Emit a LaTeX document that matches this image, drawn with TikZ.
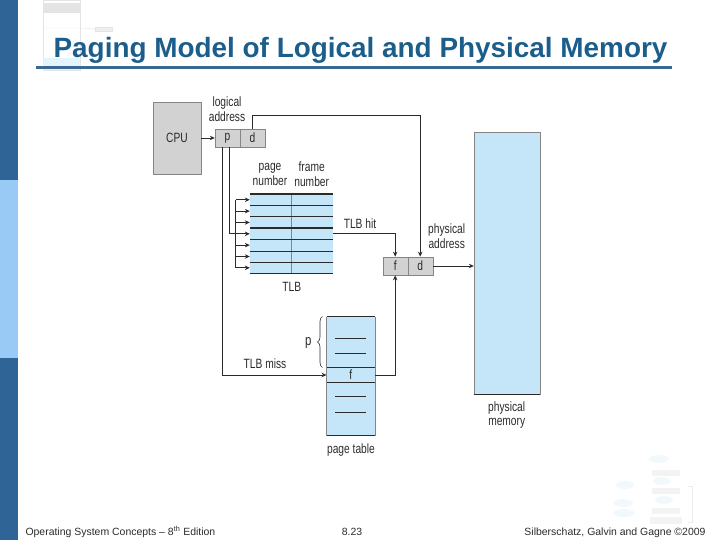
\documentclass[tikz,border=0pt]{standalone}
\usepackage{fontspec}
\setmainfont{Liberation Sans}
\newfontfamily\narrowsf[FakeStretch=0.76]{Liberation Sans}
\usetikzlibrary{arrows.meta,calc,decorations.pathreplacing}
\definecolor{barblue}{HTML}{2F6496}
\definecolor{barlight}{HTML}{99C9F5}
\definecolor{titleblue}{HTML}{1B5E8C}
\definecolor{ruleblue}{HTML}{3A6A94}
\definecolor{memblue}{HTML}{C4E6F8}
\definecolor{boxgray}{HTML}{D2D2D2}
\definecolor{edgegray}{HTML}{858585}
\definecolor{ink}{HTML}{2B2B2B}
\definecolor{faint}{HTML}{E4E4E4}
\tikzset{
 lbl/.style={font=\narrowsf\fontsize{13.5}{15}\selectfont,text=ink,align=center,inner sep=0pt},
 cell/.style={draw=edgegray,fill=boxgray,minimum width=25bp,minimum height=18bp,inner sep=0pt,font=\narrowsf\fontsize{13.5}{14}\selectfont,text=ink},
 arr/.style={ink,line width=.8pt,-{Stealth[length=5pt,width=4.5pt]}},
 wire/.style={ink,line width=.8pt},
}
\begin{document}
\begin{tikzpicture}[x=1bp,y=-1bp]
 \useasboundingbox(0,0)rectangle(720,540);
 \fill[barblue](0,0)rectangle(18,540);
 \fill[barlight](0,180)rectangle(18,358);
 % faded slide thumbnails
 \draw[faint](43,0)rectangle(80,70);\fill[faint](43,3)rectangle(80,13);\fill[memblue!45](43,58)rectangle(80,70);
 \draw[faint](43,28)--(80,28)--(95,29);\draw[faint,fill=faint!60](95,27)rectangle(112,31);
 \fill[memblue!22](659,459)ellipse(10 and 4);\fill[faint!45](652,470)rectangle(680,476);
 \fill[memblue!22](662,481)ellipse(9 and 4);\fill[faint!45](652,488)rectangle(680,494);
 \fill[memblue!22](664,500)ellipse(9 and 4);\fill[faint!45](652,508)rectangle(680,514);
 \fill[faint!45](650,517)rectangle(682,524);\fill[memblue!22](625,485)ellipse(9 and 4);
 \fill[memblue!22](623,503)ellipse(10 and 4);\fill[memblue!22](624,513)ellipse(11 and 4);
 \draw[faint!70](688,486)--(692,486)--(692,522)--(688,522);
 % title
 \node[font=\fontsize{28}{30}\selectfont\bfseries,text=titleblue,anchor=base](title)at(360.5,58){Paging Model of Logical and Physical Memory};
 \draw[ruleblue,line width=3bp](36,67.5)--(672,67.5);
 % cpu and addresses
 \node[cell,minimum width=48bp,minimum height=72bp](cpu)at(177,138){CPU};
 \node[cell](lp)at(227.5,138){p};
 \node[cell](ld)at(252.5,138){d};
 \node[lbl](lalbl)at(227,109.5){logical\\address};
 \node[cell,minimum height=18.3bp](pf)at(395.2,266){f};
 \node[cell,minimum height=18.3bp](pd)at(420.2,266){d};
 \node[lbl](palbl)at(446.7,236){physical\\address};
 % TLB
 \node[fill=memblue,minimum width=82.7bp,minimum height=79bp,inner sep=0pt](tlb)at(291.35,233.8){};
 \draw[edgegray,line width=.4pt](tlb.north)--(tlb.south);
 \foreach \i/\w in {0/1.3,1/.5,2/1.3,3/1.3,4/1.3,5/.5,6/1.3,7/.4}
  \draw[ink,line width=\w pt]($(tlb.north west)!\i/7!(tlb.south west)$)--($(tlb.north east)!\i/7!(tlb.south east)$);
 \node[lbl](pnlbl)at(270,174.5){page\\number};
 \node[lbl](fnlbl)at(311.7,174.5){frame\\number};
 \node[lbl](tlblbl)at(291.7,286.7){TLB};
 \draw[wire]($(tlb.north west)!{.5/7}!(tlb.south west)+(-14,0)$)--($(tlb.north west)!{6.5/7}!(tlb.south west)+(-14,0)$);
 \foreach \i in {1,...,7}
  \draw[arr]($(tlb.north west)!{(\i-.5)/7}!(tlb.south west)+(-14,0)$)--($(tlb.north west)!{(\i-.5)/7}!(tlb.south west)$);
 % page table
 \node[fill=memblue,minimum width=48.3bp,minimum height=119bp,inner sep=0pt](pt)at(350.85,376.2){};
 \node[minimum width=48.3bp,minimum height=14.6bp,inner sep=0pt,font=\narrowsf\fontsize{13.5}{14}\selectfont,text=ink](ptf)at(350.85,375){f};
 \draw[ink,line width=1pt](pt.north west)--(pt.north east) (pt.south west)--(pt.south east)
  (ptf.north west)--(ptf.north east) (ptf.south west)--(ptf.south east);
 \draw[edgegray,line width=.3pt](pt.north west)--(pt.south west) (pt.north east)--(pt.south east);
 \foreach \y in {338.3,353.3,396.7,412.3}\draw[ink,line width=.7pt](335,\y)--(366,\y);
 \draw[ink,line width=.6pt,decorate,decoration={brace,amplitude=5bp}]([xshift=-4bp]ptf.north west)--([xshift=-4bp]pt.north west);
 \node[lbl,font=\narrowsf\fontsize{15}{15}\selectfont](plbl)at(308.3,343.3){p};
 \node[lbl](ptlbl)at(351,450){page table};
 % memory
 \node[draw=edgegray,fill=memblue,minimum width=66bp,minimum height=262bp,inner sep=0pt](mem)at(507,263.3){};
 \draw[ink,line width=1pt](mem.south west)--(mem.south east);
 \node[lbl](memlbl)at(506.7,415){physical\\memory};
 % connectors
 \draw[arr](cpu.east)--(lp.west);
 \draw[arr](ld.north)--++(0,-13)-|(pd.north);
 \draw[wire]([xshift=1.5bp]lp.south)|-($(tlb.west)+(-14,0)$);
 \draw[arr](tlb.east)-|(pf.north);
 \node[lbl](hitlbl)at(360,223.3){TLB hit};
 \draw[arr]([xshift=-4.8bp]lp.south)|-(ptf.west);
 \node[lbl](misslbl)at(265,363.3){TLB miss};
 \draw[arr](ptf.east)-|(pf.south);
 \draw[arr](pd.east)--(pd.east-|mem.west);
 % footer
 \node[font=\fontsize{10.5}{12}\selectfont,text=ink,anchor=base west](foot)at(22,535){Operating System Concepts – 8\textsuperscript{th} Edition};
 \node[font=\fontsize{10.5}{12}\selectfont,text=ink,anchor=base](pageno)at(352,535){8.23};
 \node[font=\fontsize{10.5}{12}\selectfont,text=ink,anchor=base east](copy)at(709,535){Silberschatz, Galvin and Gagne ©2009};
\end{tikzpicture}
\end{document}
